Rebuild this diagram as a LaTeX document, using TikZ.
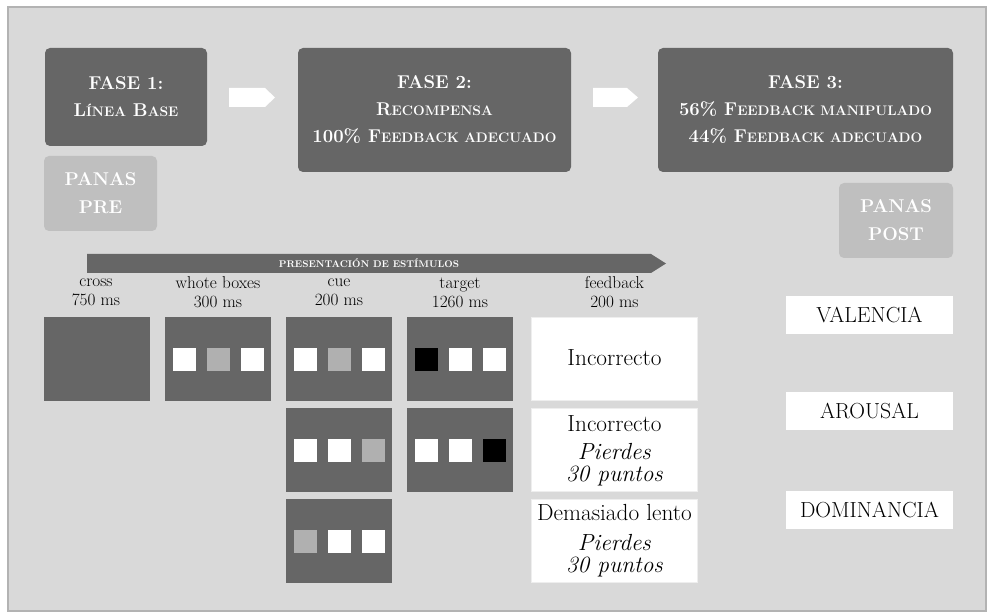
\documentclass[tikz,border=0pt]{standalone}
\usepackage{fontspec}
\definecolor{dk}{HTML}{666666}
\definecolor{pan}{HTML}{BFBFBF}
\definecolor{bg}{HTML}{D9D9D9}
\definecolor{frm}{HTML}{B3B3B3}
\definecolor{gsq}{HTML}{B0B0B0}
\definecolor{fbd}{HTML}{EEEEEE}
\newcommand\smc[1]{{\fontsize{13.8}{13.8}\selectfont #1}}
\tikzset{
  phase/.style={fill=dk, rounded corners=5pt, text=white, align=center, inner sep=0pt,
    font=\bfseries\fontsize{18.5}{27}\selectfont},
  panas/.style={fill=pan, rounded corners=5pt, text=white, align=center, inner sep=0pt,
    font=\bfseries\fontsize{18.5}{28}\selectfont, minimum width=113pt, minimum height=75pt},
  screen/.style={fill=dk, inner sep=0pt, minimum width=106pt, minimum height=84pt},
  sq/.style={inner sep=0pt, minimum size=23pt},
  fbbox/.style={fill=white, draw=fbd, line width=1pt, inner sep=0pt, minimum width=166pt, minimum height=83pt},
  fbtext/.style={align=center, inner sep=0pt, font=\fontsize{23.3}{22}\selectfont},
  lbl/.style={align=center, inner sep=0pt, font=\fontsize{17.2}{19}\selectfont},
  scalebox/.style={fill=white, inner sep=0pt, minimum width=167pt, minimum height=38pt,
    font=\fontsize{21.8}{22}\selectfont},
  arrowshape/.style={fill=white},
}
\newcommand\myscreen[5]{%
  \node[screen] (#1) at (#2) {};
  \node[sq, fill=#3] (#1a) at ([xshift=-34pt]#1.center) {};
  \node[sq, fill=#4] (#1b) at (#1.center) {};
  \node[sq, fill=#5] (#1c) at ([xshift=34pt]#1.center) {};
}
\begin{document}
\begin{tikzpicture}[x=1pt, y=-1pt]
\useasboundingbox (0,0) rectangle (988,612);
\fill[white] (0,0) rectangle (988,612);
\draw[line width=2pt, draw=frm, fill=bg] (7.5,7.5) rectangle (986,610.5);

% phases
\node[phase, minimum width=162pt, minimum height=98pt] (f1) at (126,97)
  {FASE 1:\\ L\smc{ÍNEA} B\smc{ASE}};
\node[phase, minimum width=273pt, minimum height=124pt] (f2) at (434.5,110)
  {FASE 2:\\ R\smc{ECOMPENSA}\\ 100\% F\smc{EEDBACK ADECUADO}};
\node[phase, minimum width=295pt, minimum height=124pt] (f3) at (805.5,110)
  {FASE 3:\\ 56\% F\smc{EEDBACK MANIPULADO}\\ 44\% F\smc{EEDBACK ADECUADO}};

% arrows between phases
\fill[arrowshape] (229,88) -- (265,88) -- (275,97.5) -- (265,107) -- (229,107) -- cycle;
\fill[arrowshape] (593,88) -- (627,88) -- (638,97.5) -- (627,107) -- (593,107) -- cycle;

% PANAS
\node[panas] (pre) at (100.5,193.5) {PANAS\\PRE};
\node[panas, minimum width=114pt] (post) at (896,220.5) {PANAS\\POST};

% stimulus bar
\fill[dk] (87,254) -- (651,254) -- (666,263.5) -- (651,273) -- (87,273) -- cycle;
\node[text=white, inner sep=0pt, font=\bfseries\fontsize{9.75}{10}\selectfont] (bar) at (369,263.5)
  {PRESENTACIÓN DE ESTÍMULOS};

% labels
\node[lbl] (l1) at (96,292.5) {cross\\750 ms};
\node[lbl] (l2) at (218,292.5) {whote boxes\\300 ms};
\node[lbl] (l3) at (339,292.5) {cue\\200 ms};
\node[lbl] (l4) at (460,292.5) {target\\1260 ms};
\node[lbl] (l5) at (614.5,292.5) {feedback\\200 ms};

% screens
\node[screen] (s11) at (97,359) {};
\myscreen{s12}{218,359}{white}{gsq}{white}
\myscreen{s13}{339,359}{white}{gsq}{white}
\myscreen{s23}{339,450}{white}{white}{gsq}
\myscreen{s33}{339,541}{gsq}{white}{white}
\myscreen{s14}{460,359}{black}{white}{white}
\myscreen{s24}{460,450}{white}{white}{black}

% feedback
\node[fbbox] (fb1) at (614.5,359) {};
\node[fbtext] (fb1t) at (614.5,358) {Incorrecto};
\node[fbbox] (fb2) at (614.5,450) {};
\node[fbtext] (fb2t) at (614.5,451) {Incorrecto\\[6pt]\textit{Pierdes}\\\textit{30 puntos}};
\node[fbbox] (fb3) at (614.5,541) {};
\node[fbtext] (fb3t) at (614.5,541) {Demasiado lento\\[8pt]\textit{Pierdes}\\\textit{30 puntos}};

% scales
\node[scalebox] (val) at (869.5,315) {VALENCIA};
\node[scalebox] (aro) at (869.5,411) {AROUSAL};
\node[scalebox] (dom) at (869.5,510) {DOMINANCIA};
\end{tikzpicture}
\end{document}
